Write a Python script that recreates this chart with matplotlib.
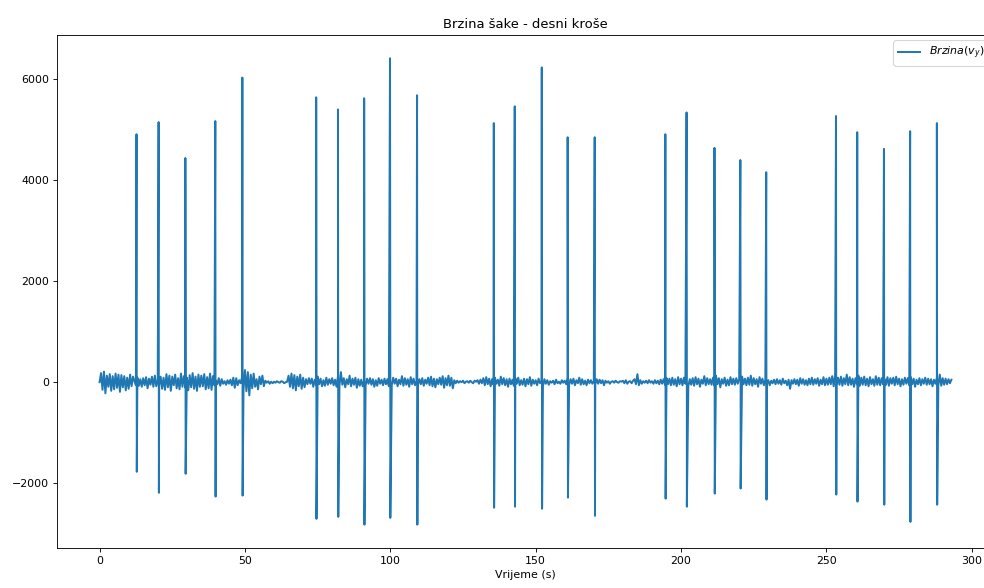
#!/usr/bin/env python3
"""Brzina šake - desni kroše"""
import numpy as np
import matplotlib
matplotlib.use('Agg')
import matplotlib.pyplot as plt

baseline = [
    0, 180, -150, 210, -220, 130, -90, 160, -170, 120, -140, 170, -110, 150, -190, 140, -100, 120, -160, 90,
    -130, 150, -80, 110, 20, -60, 90, -70, 60, -90, 80, -60, 100, -120, 70, -50, 110, -90, 130, -80,
    40, -70, 110, -130, 90, -150, 160, -100, 130, -170, 110, -60, 150, -120, 80, -140, 170, -90, 120, -110,
    90, -160, 140, -100, 180, -130, 110, -170, 150, -90, 130, -80, 160, -140, 100, -120, 170, -150, 120, -60,
    30, -40, 80, -70, 60, -30, 20, -50, 40, -30, 50, -60, 90, -110, 80, -60, 40, -20, 100, -150,
    240, -180, 200, -260, 150, -120, 170, -90, 60, -140, 110, -40, 130, -80, 30, -10, 20, -30, 10, -20,
    10, -10, 20, 0, -10, 20, 10, -20, 0, 10, 130, -90, 170, -120, 140, -160, 110, -80, 150, -130,
    90, -100, 60, -40, 80, -30, 70, -90, 50, -60, 110, -40, 70, -80, 40, -70, 90, -50, 60, -30,
    80, -60, 50, -90, 120, -70, 200, -50, 80, -100, 60, -40, 130, -80, 70, -50, 90, -110, 60, -70,
    50, -80, 40, -60, 70, -30, 80, -50, 60, -90, 40, -70, 80, -30, 50, -60, 70, -40, 60, -80,
    40, -60, 90, -30, 70, -80, 50, -40, 120, -70, 80, -50, 60, -90, 100, -40, 70, -60, 30, -50,
    60, -40, 80, -70, 50, -30, 90, -60, 110, -80, 70, -100, 60, -40, 90, -50, 120, -110, 80, -60,
    130, -70, 90, -120, 40, -20, 30, -10, 20, 0, 30, -20, 10, 20, -10, 30, 0, -20, 30, 10,
    40, -30, 50, -20, 80, -60, 100, -40, 70, -80, 60, -50, 90, -30, 50, -70, 110, -40, 80, -60,
    60, -90, 70, -40, 50, -70, 80, -30, 90, -60, 40, -50, 70, -80, 60, -40, 100, -70, 50, -30,
    40, -60, 70, -20, 30, -80, 60, -30, 40, -50, 20, -10, 30, -40, 50, -20, 10, -30, 40, -10,
    30, -40, 80, -50, 60, -30, 70, -60, 40, -20, 90, -50, 60, -40, 30, -60, 50, -20, 40, -30,
    20, -40, 60, -30, 50, -20, 40, -60, 30, -10, 20, -30, 10, 20, -10, 30, 0, -10, 20, 10,
    30, -20, 40, -30, 10, 20, -20, 30, 60, -40, 160, -60, 40, -30, 20, -10, 30, -20, 40, -10,
    20, -30, 40, -20, 30, -40, 50, -30, 60, -50, 80, -40, 70, -60, 90, -50, 60, -80, 100, -40,
    70, -60, 90, -30, 110, -80, 60, -50, 80, -70, 100, -40, 70, -90, 50, -30, 120, -60, 80, -40,
    60, -50, 90, -70, 130, -40, 80, -100, 60, -30, 90, -70, 50, -60, 100, -40, 70, -50, 80, -30,
    60, -80, 110, -40, 70, -60, 90, -50, 130, -70, 80, -40, 60, -90, 100, -30, 70, -60, 50, -40,
    40, -60, 30, -20, 50, -40, 60, -30, 40, -50, 70, -20, 30, -60, 50, -130, 40, -30, 60, -40,
    50, -70, 80, -30, 60, -50, 40, -60, 70, -40, 90, -50, 60, -30, 80, -70, 50, -40, 100, -60,
    70, -50, 90, -40, 120, -80, 140, -60, 90, -50, 110, -70, 80, -40, 150, -60, 100, -50, 70, -90,
    80, -40, 130, -70, 90, -50, 110, -60, 70, -80, 100, -40, 60, -70, 120, -50, 90, -60, 80, -40,
    60, -50, 100, -70, 80, -30, 90, -60, 110, -40, 70, -80, 60, -50, 90, -30, 80, -60, 100, -40,
    70, -90, 50, -40, 80, -60, 60, -30, 90, -50, 70, -40, 60, -80, 50, -30, 90, -60, 150, -70,
    80, -50, 70, -40, 60, -20, 50,
]
sample_step = 0.5

# udarci (punches): time, peak and trough velocity
spike_t = [12.7, 20.3, 29.5, 39.8, 49.1, 74.5, 82.0, 91.0, 99.9, 109.2,
           135.6, 142.8, 152.1, 161.0, 170.3, 194.6, 201.9, 211.5, 220.4, 229.3,
           253.3, 260.6, 269.8, 278.8, 288.0]
spike_peak = [4900, 5140, 4430, 5160, 6020, 5630, 5390, 5610, 6400, 5670,
              5120, 5450, 6220, 4840, 4840, 4900, 5330, 4630, 4390, 4150,
              5260, 4940, 4610, 4960, 5120]
spike_trough = [-1770, -2185, -1810, -2260, -2240, -2700, -2660, -2815, -2680, -2815,
                -2480, -2460, -2500, -2280, -2640, -2300, -2460, -2200, -2100, -2320,
                -2220, -2360, -2420, -2760, -2420]

t_base = np.arange(len(baseline)) * sample_step
t_all = np.concatenate([t_base, spike_t, np.array(spike_t) + 0.1])
v_all = np.concatenate([baseline, spike_peak, spike_trough])
order = np.argsort(t_all, kind='stable')
t_all, v_all = t_all[order], v_all[order]

DPI = 79
fig = plt.figure(figsize=(984 / DPI, 588 / DPI), dpi=DPI)
ax = fig.add_axes([57 / 984, 40 / 588, 937 / 984, 513 / 588])
ax.plot(t_all, v_all, color='#1f77b4', linewidth=1.8, label=r'$Brzina(v_y)$')
ax.set_title('Brzina šake - desni kroše')
ax.set_xlabel('Vrijeme (s)')
ax.legend(loc='upper right')

plt.savefig('out.png', dpi=DPI)
